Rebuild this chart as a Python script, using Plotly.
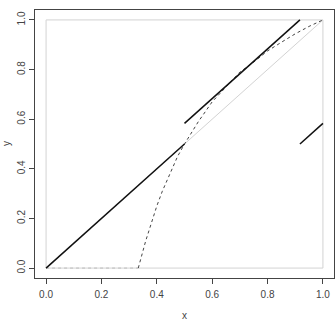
import plotly.graph_objects as go

# Reference square (light gray)
sq_x = [0, 1, 1, 0, 0]
sq_y = [0, 0, 1, 1, 0]
diag_x = [0, 1]
diag_y = [0, 1]

# Solid black segments
seg1_x = [0.0, 0.5]
seg1_y = [0.0, 0.5]
seg2_x = [0.5, 0.917]
seg2_y = [0.583, 1.0]
seg3_x = [0.917, 1.0]
seg3_y = [0.5, 0.583]

# Dashed curve: flat part and rising part
flat_x = [0.0, 0.333]
flat_y = [0.0, 0.0]
dash_x = [0.333, 0.35, 0.36, 0.38, 0.40, 0.42, 0.45, 0.475, 0.5, 0.55, 0.6, 0.65, 0.7, 0.75, 0.8, 0.85, 0.9, 0.95, 1.0]
dash_y = [0.0, 0.07, 0.11, 0.18, 0.25, 0.31, 0.39, 0.45, 0.5, 0.59, 0.67, 0.73, 0.79, 0.83, 0.875, 0.91, 0.944, 0.974, 1.0]

tick_vals = [0.0, 0.2, 0.4, 0.6, 0.8, 1.0]
tick_text = ["0.0", "0.2", "0.4", "0.6", "0.8", "1.0"]

gray = "#d3d3d3"
fig = go.Figure()
fig.add_trace(go.Scatter(x=sq_x, y=sq_y, mode="lines", line=dict(color=gray, width=1), hoverinfo="skip"))
fig.add_trace(go.Scatter(x=diag_x, y=diag_y, mode="lines", line=dict(color=gray, width=1), hoverinfo="skip"))
fig.add_trace(go.Scatter(x=flat_x, y=flat_y, mode="lines", line=dict(color="#bdbdbd", width=1, dash="3px,3px")))
fig.add_trace(go.Scatter(x=dash_x, y=dash_y, mode="lines", line=dict(color="#444444", width=1, dash="3px,3px")))
for sx, sy in [(seg1_x, seg1_y), (seg2_x, seg2_y), (seg3_x, seg3_y)]:
    fig.add_trace(go.Scatter(x=sx, y=sy, mode="lines", line=dict(color="#111111", width=1.5)))

font = dict(family="Liberation Sans, Arial, sans-serif", size=10, color="#444444")
fig.update_layout(
    width=336, height=321,
    margin=dict(l=35, r=2, t=10, b=43),
    paper_bgcolor="white", plot_bgcolor="white",
    showlegend=False,
    font=font,
    xaxis=dict(range=[-0.04, 1.04], tickvals=tick_vals, ticktext=tick_text,
               showgrid=False, zeroline=False, showline=True, mirror=True,
               linecolor="#444444", linewidth=1, ticks="outside", ticklen=5,
               tickcolor="#444444", tickfont=font, ticklabelstandoff=2),
    yaxis=dict(range=[-0.04, 1.04], tickvals=tick_vals, ticktext=tick_text,
               showgrid=False, zeroline=False, showline=True, mirror=True,
               linecolor="#444444", linewidth=1, ticks="outside", ticklen=5,
               tickcolor="#444444", tickangle=-90, tickfont=font),
    annotations=[
        dict(text="x", x=0.5, y=-0.04, xref="x", yref="paper", yshift=-34,
             showarrow=False, font=dict(family=font["family"], size=10, color="#444444")),
        dict(text="y", x=0, y=0.5, xref="paper", yref="y", xanchor="center", xshift=-29,
             showarrow=False, textangle=-90,
             font=dict(family=font["family"], size=10, color="#444444")),
    ],
)
fig.write_html("out.html")
